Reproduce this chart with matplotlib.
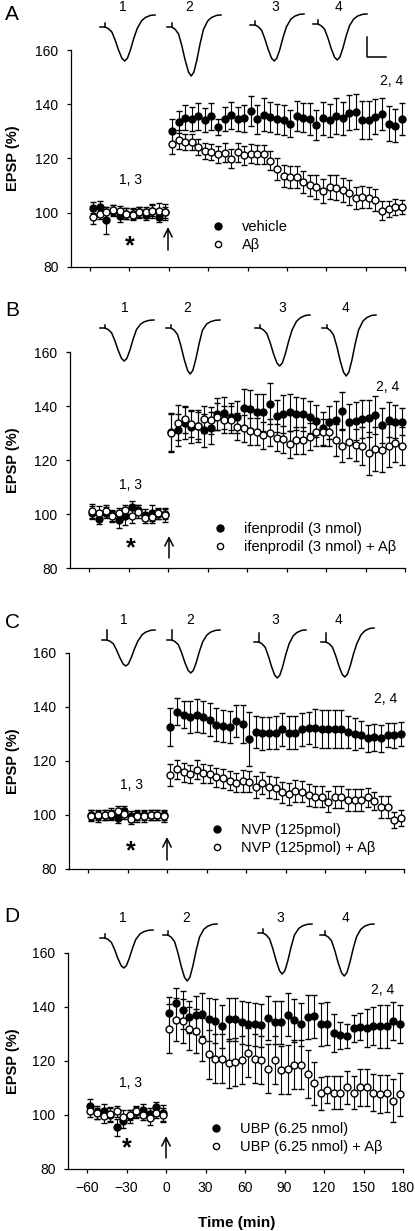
import numpy as np
import matplotlib.pyplot as plt

plt.rcParams['font.family'] = ['Liberation Sans', 'DejaVu Sans']

# sampling times (min): 12 baseline points, then 36 after the tetanus
t_base = np.arange(-57.5, 0, 5)
t_post = np.arange(2.5, 180, 5)
times = np.concatenate([t_base, t_post])

panel_letters = ['A', 'B', 'C', 'D']
label_filled = ['vehicle', 'ifenprodil (3 nmol)', 'NVP (125pmol)', 'UBP (6.25 nmol)']
label_open = ['A\u03b2', 'ifenprodil (3 nmol) + A\u03b2', 'NVP (125pmol) + A\u03b2',
              'UBP (6.25 nmol) + A\u03b2']

# ---- panel A ----
a_filled = [101.8, 102.2, 97.2, 100.7, 98.7, 99.7, 99.7, 100.1, 99.3, 100.7, 98.5, 100.1,
            130.2, 133.5, 135.1, 134.5, 135.6, 134.1, 135.6, 131.7, 134.6, 136.0, 134.5, 134.9,
            137.5, 134.4, 136.2, 135.4, 134.5, 134.1, 132.9, 135.6, 135.1, 134.6, 132.3, 134.8,
            134.1, 135.7, 134.8, 136.9, 137.2, 134.1, 134.1, 135.4, 136.4, 132.9, 132.1, 134.5]
a_filled_err = [2, 2, 5, 2, 2, 2, 2, 2, 2, 2, 2, 2,
                4.5, 4, 4.5, 4.5, 5, 4.5, 5, 3, 4.5, 5, 4.5, 5,
                5.5, 5.5, 6, 5.5, 5.5, 5.5, 5, 5.5, 5.5, 6, 5.5, 6,
                6, 6.5, 6, 6.5, 6.5, 7, 7, 6.5, 6, 6.5, 6, 6]
a_open = [98.5, 99.7, 100.1, 101.0, 100.6, 99.7, 99.3, 100.3, 100.1, 100.7, 100.7, 100.3,
          125.5, 127.0, 126.1, 126.1, 124.3, 122.7, 122.5, 121.5, 122.1, 119.9, 122.3, 121.2,
          121.8, 121.5, 121.6, 119.1, 116.0, 113.6, 113.2, 113.2, 111.4, 110.1, 109.5, 108.0,
          109.5, 109.3, 108.3, 107.4, 105.5, 105.8, 105.6, 104.6, 100.7, 101.3, 102.1, 102.1]
a_open_err = [2.5, 2, 2, 2, 2, 2, 2, 2, 2, 2.5, 3, 3,
              4, 3.5, 3, 3, 3, 3, 3, 3, 3.5, 3.5, 3.5, 3.5,
              3.5, 3.5, 3.5, 3.5, 4, 4, 4, 4, 4, 4, 4.5, 4.5,
              4.5, 4.5, 4.5, 4.5, 4, 4, 4, 4, 3.5, 3, 3, 2.5]

# ---- panel B ----
b_filled = [100.5, 98.2, 100.5, 99.5, 97.8, 99.1, 102.5, 101.5, 99.7, 100.3, 100.0, 100.0,
            130.5, 131.2, 133.6, 132.3, 132.5, 131.0, 131.8, 137.0, 137.3, 136.0, 136.0, 139.4,
            139.0, 137.6, 137.6, 140.9, 136.2, 136.9, 137.6, 137.2, 136.9, 136.0, 134.5, 131.7,
            133.9, 135.0, 138.1, 133.9, 134.5, 135.1, 135.4, 136.6, 132.9, 135.0, 134.2, 134.2]
b_filled_err = [2.5, 2, 2, 2, 3, 3, 2.5, 2, 2, 3, 2, 2,
                7, 6, 6, 6, 6, 6, 6, 6, 6, 5, 6, 7,
                7, 7, 7, 7.5, 6, 7, 7, 6, 6, 6, 6, 6,
                6, 7, 7, 7, 7, 7, 7, 7, 6.5, 6.5, 6, 5]
b_open = [101.2, 100.3, 101.2, 99.1, 100.3, 101.3, 99.3, 100.9, 98.5, 98.8, 100.3, 99.7,
          130.1, 133.8, 135.1, 133.5, 132.6, 135.1, 134.8, 136.0, 135.0, 135.0, 132.3, 131.7,
          130.7, 130.5, 129.2, 130.1, 128.2, 127.6, 125.8, 127.4, 127.4, 128.6, 130.2, 130.2,
          130.2, 127.4, 125.3, 126.8, 125.5, 125.3, 122.5, 124.1, 123.7, 125.3, 126.4, 125.3]
b_open_err = [2.5, 2.5, 2, 2, 2, 2, 2.5, 2.5, 2, 2, 2, 2.5,
              7, 6.5, 5, 5, 5, 5, 5, 5, 5, 5, 5, 5,
              5, 5, 5, 5, 5, 5, 5, 5, 5, 5, 5, 5,
              5, 6, 6, 6, 6, 7, 8, 8, 8, 8, 7, 7]

# ---- panel C ----
c_filled = [100.0, 99.5, 100.0, 100.0, 99.0, 101.5, 99.5, 100.0, 100.0, 100.0, 100.0, 100.0,
            132.5, 138.2, 137.2, 136.3, 136.9, 136.3, 135.3, 133.5, 133.0, 132.6, 134.8, 133.6,
            128.0, 130.8, 130.2, 130.4, 130.5, 131.7, 130.5, 130.5, 131.7, 132.3, 132.3, 131.9,
            131.9, 131.9, 131.9, 130.7, 130.1, 129.7, 128.5, 128.8, 128.5, 129.7, 129.5, 130.1]
c_filled_err = [2, 2, 2, 2, 2, 2, 2, 2, 2, 2, 2, 2,
                7, 5, 5, 6, 6, 6, 6, 6, 6, 6, 6, 7,
                10, 6, 6, 6, 6, 6, 6, 6, 6, 6, 7, 7,
                7, 7, 7, 6, 6, 5, 5, 5, 5, 4.5, 4.5, 4.5]
c_open = [99.8, 100.0, 100.0, 100.5, 101.5, 100.5, 98.5, 99.5, 99.5, 100.0, 100.0, 99.5,
          114.8, 116.9, 115.8, 115.2, 116.7, 115.4, 115.2, 114.0, 113.6, 112.7, 112.0, 112.6,
          112.4, 110.3, 111.8, 110.3, 109.9, 108.4, 107.7, 109.0, 108.7, 107.4, 106.8, 106.8,
          105.0, 106.6, 106.6, 105.6, 105.6, 105.6, 106.6, 105.2, 102.9, 102.9, 98.2, 98.8]
c_open_err = [2, 2, 2, 2, 2, 2, 2, 2, 2, 2, 2, 2,
              4, 3.5, 3.5, 3.5, 3.5, 3.5, 3.5, 3.5, 3.5, 3.5, 3.5, 4,
              4, 4, 4, 4, 4, 4, 4, 4, 4, 4, 4, 4,
              4, 4, 4, 4, 4, 4, 3.5, 3.5, 4, 4, 3, 3]

# ---- panel D ----
d_filled = [103.4, 101.0, 101.5, 100.0, 95.4, 97.6, 99.5, 101.0, 101.9, 100.5, 102.9, 100.7,
            137.7, 141.4, 139.0, 136.3, 136.9, 137.3, 135.4, 134.8, 132.9, 135.4, 135.4, 134.4,
            133.8, 133.6, 133.2, 135.9, 134.4, 134.4, 137.1, 135.1, 133.6, 136.3, 136.5, 133.6,
            133.8, 130.4, 129.5, 129.2, 132.2, 132.6, 132.2, 133.0, 132.9, 132.9, 134.8, 133.6]
d_filled_err = [2.5, 2.5, 2.5, 2.5, 3, 2.5, 2.5, 2, 2, 2, 2, 3,
                6, 5.5, 7, 6, 7, 8, 8, 8, 8, 8, 8, 8,
                8, 8, 8, 8, 8, 8, 8, 8, 8, 8, 8, 8,
                8, 7, 5, 4.5, 5, 5, 7, 7, 8, 8, 7, 7]
d_open = [101.3, 100.7, 99.7, 100.3, 101.3, 99.4, 100.0, 101.3, 100.0, 98.8, 100.9, 100.0,
          132.0, 135.3, 134.8, 132.0, 131.1, 127.9, 122.5, 120.9, 120.9, 119.1, 119.7, 120.3,
          123.1, 120.9, 120.3, 117.2, 120.3, 116.6, 116.9, 118.7, 118.7, 115.2, 111.7, 108.0,
          109.3, 108.3, 108.3, 110.2, 108.3, 110.2, 110.2, 108.3, 107.7, 108.0, 105.3, 107.7]
d_open_err = [2, 2, 2.5, 2.5, 2, 2.5, 2, 2, 2, 2.5, 2, 2.5,
              9, 8, 8, 8, 8, 8, 9, 9, 9, 9, 9, 9,
              9, 9, 9, 9, 9, 9, 9, 9, 9, 9, 8, 6,
              5, 6, 6, 6, 6, 7, 7, 7, 7, 7, 8, 8]

filled = [a_filled, b_filled, c_filled, d_filled]
filled_err = [a_filled_err, b_filled_err, c_filled_err, d_filled_err]
opened = [a_open, b_open, c_open, d_open]
opened_err = [a_open_err, b_open_err, c_open_err, d_open_err]

# EPSP waveform template: relative time, relative amplitude
trace_t = [0, 0.092, 0.153, 0.215, 0.276, 0.337, 0.399, 0.448, 0.497, 0.552, 0.613, 0.675,
           0.755, 0.828, 0.92, 1.0]
trace_v = [0, 0, -0.049, -0.146, -0.388, -0.68, -0.922, -1.0, -0.922, -0.68, -0.34, -0.049,
           0.175, 0.272, 0.33, 0.34]

W, H = 415, 1231
fig = plt.figure(figsize=(W / 100, H / 100), dpi=100)

# axes boxes in pixels: left, right, top, bottom
boxes = [(71, 405, 50, 267), (70, 405, 352, 568), (69, 404, 653, 869), (68, 403, 953, 1169)]
# sweeps: x start, x end, baseline, trough, plateau, artifact height (pixels)
sweeps = [
    [(100, 155, 27, 61, 15, 4), (167, 221, 27, 76, 15, 4), (250, 304, 25, 61, 14, 4), (313, 367, 24, 60, 14, 4)],
    [(100, 154, 328, 361, 320, 3), (166, 220, 328, 374, 320, 3), (255, 310, 328, 366, 315, 3), (322, 376, 328, 376, 315, 3)],
    [(102, 155, 640, 666, 630, 10), (167, 220, 640, 673, 630, 10), (254, 306, 642, 678, 630, 9), (321, 374, 642, 677, 628, 9)],
    [(100, 153, 938, 968, 930, 4), (163, 217, 935, 981, 924, 4), (258, 312, 933, 974, 924, 4), (320, 374, 935, 976, 924, 4)],
]
sweep_nums = [[(123, 7), (189, 7), (275, 7), (338, 7)],
              [(125, 308), (187, 308), (282, 308), (345, 308)],
              [(124, 620), (190, 620), (275, 620), (338, 620)],
              [(123, 918), (186, 918), (280, 918), (345, 918)]]
letter_pos = [(12, 15), (12, 310), (12, 623), (12, 917)]
n13_pos = [(130, 180), (130, 485), (131, 785), (130, 1083)]
n24_pos = [(392, 81), (388, 387), (386, 699), (383, 990)]
star_pos = [(130, 246), (131, 548), (131, 851), (127, 1148)]
arrow_pos = [(168, 250, 227), (169, 558, 536), (167, 860, 837), (166, 1158, 1136)]
legend_pos = [(203, 236), (205, 538), (202, 839), (201, 1138)]

overlay = fig.add_axes([0, 0, 1, 1], zorder=10)
overlay.set_xlim(0, W)
overlay.set_ylim(H, 0)
overlay.axis('off')

tv = np.array(trace_v)
for i in range(4):
    l, r, t, b = boxes[i]
    ax = fig.add_axes([l / W, 1 - b / H, (r - l) / W, (b - t) / H])
    ax.patch.set_alpha(0)
    ax.errorbar(times, filled[i], yerr=filled_err[i], fmt='o', ms=5, mfc='black', mec='black',
                mew=1, ecolor='black', elinewidth=0.8, capsize=2.2, capthick=0.8,
                clip_on=False, zorder=3)
    ax.errorbar(times, opened[i], yerr=opened_err[i], fmt='o', ms=5, mfc='white', mec='black',
                mew=1, ecolor='black', elinewidth=0.8, capsize=2.2, capthick=0.8,
                clip_on=False, zorder=4)
    ax.set_xlim(-74.5, 180)
    ax.set_ylim(80, 160)
    ax.set_yticks([80, 100, 120, 140, 160])
    ax.set_xticks(range(-60, 181, 30))
    for s in ['top', 'right']:
        ax.spines[s].set_visible(False)
    for s in ['left', 'bottom']:
        ax.spines[s].set_linewidth(0.9)
    ax.tick_params(direction='out', length=3, width=0.9, labelsize=10)
    ax.tick_params(axis='y', pad=6)
    ax.tick_params(axis='x', pad=6)
    if i < 3:
        ax.set_xticklabels([])

    # legend
    hf = ax.plot([], [], 'o', ms=5, mfc='black', mec='black', mew=1)[0]
    ho = ax.plot([], [], 'o', ms=4.5, mfc='white', mec='black', mew=1)[0]
    ax.legend([hf, ho], [label_filled[i], label_open[i]], loc='center left',
              bbox_to_anchor=legend_pos[i], bbox_transform=overlay.transData,
              frameon=False, borderpad=0, handlelength=1, handletextpad=1.2,
              labelspacing=0.25, fontsize=10.5, numpoints=1)

    # sweeps above the panel
    for k, (x0, x1, base, low, top, art) in enumerate(sweeps[i]):
        xs = x0 + np.array(trace_t) * (x1 - x0)
        ys = np.where(tv < 0, base - tv * (low - base), base - tv / 0.34 * (base - top))
        overlay.plot(xs, ys, color='black', lw=1.1)
        xa = x0 + trace_t[1] * (x1 - x0)
        overlay.plot([xa, xa], [base, base - art], color='black', lw=1.1)
        nx, ny = sweep_nums[i][k]
        overlay.text(nx, ny, str(k + 1), ha='center', va='center', fontsize=10)

    overlay.text(*letter_pos[i], panel_letters[i], ha='center', va='center', fontsize=15)
    overlay.text(*n13_pos[i], '1, 3', ha='center', va='center', fontsize=10)
    overlay.text(*n24_pos[i], '2, 4', ha='center', va='center', fontsize=10)
    overlay.text(*star_pos[i], '*', ha='center', va='center', fontsize=18, fontweight='bold')
    ax_x, y0, y1 = arrow_pos[i]
    overlay.annotate('', xy=(ax_x, y1), xytext=(ax_x, y0),
                     arrowprops=dict(arrowstyle='->,head_length=0.6,head_width=0.3',
                                     lw=1.1, color='black', shrinkA=0, shrinkB=0))
    overlay.text(13, (t + b) / 2, 'EPSP (%)', rotation=90, ha='center', va='center',
                 fontsize=10.5, fontweight='bold')

# calibration bar (panel A)
overlay.plot([367, 367, 386], [37, 57, 57], color='black', lw=1.1)
overlay.text(237, 1223, 'Time (min)', ha='center', va='center', fontsize=11, fontweight='bold')

fig.savefig('out.png', dpi=100)
